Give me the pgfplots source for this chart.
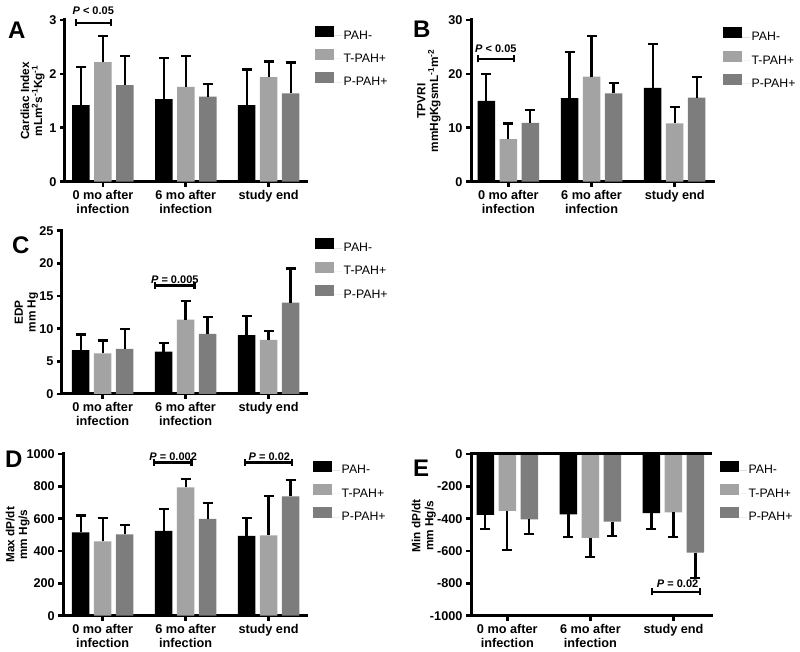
\documentclass[border=0pt]{standalone}
\usepackage{fontspec}
\setmainfont{Liberation Sans}
\usepackage{pgfplots}
\usepackage{pgfplotstable}
\pgfplotsset{compat=1.18}
\usetikzlibrary{arrows.meta}

\definecolor{lgray}{RGB}{163,163,163}
\definecolor{dgray}{RGB}{125,125,125}

\pgfplotstableread{
g pm pme tp tpe pp ppe
0 1.42 0.71 2.22 0.48 1.79 0.54
1 1.53 0.77 1.76 0.57 1.58 0.23
2 1.42 0.66 1.94 0.29 1.64 0.57
}\dataA
\pgfplotstableread{
g pm pme tp tpe pp ppe
0 15.0 5.0 7.9 2.9 10.9 2.4
1 15.5 8.6 19.5 7.6 16.4 1.9
2 17.4 8.2 10.8 3.1 15.6 3.8
}\dataB
\pgfplotstableread{
g pm pme tp tpe pp ppe
0 6.7 2.4 6.2 2.0 6.9 3.1
1 6.5 1.3 11.4 2.8 9.2 2.6
2 9.0 2.9 8.3 1.3 14.0 5.2
}\dataC
\pgfplotstableread{
g pm pme tp tpe pp ppe
0 515 105 460 144 503 58
1 524 136 794 53 598 97
2 493 113 497 245 738 101
}\dataD
\pgfplotstableread{
g pm pme tp tpe pp ppe
0 -377 87 -351 241 -404 93
1 -373 140 -518 119 -419 88
2 -365 101 -361 152 -610 159
}\dataE

\pgfplotsset{
  panel/.style={
    scale only axis,
    height=161.7pt,
    axis lines=left,
    axis line style={-, line width=3pt, line cap=rect},
    x axis line style={line width=3pt},
    y axis line style={line width=3pt},
    tick align=outside,
    major tick length=5pt,
    tick style={line width=2.6pt, black},
    xtick={0,1,2},
    xticklabels={{0 mo after\\infection},{6 mo after\\infection},{study end}},
    xticklabel style={align=center, font=\fontsize{12.7}{13.8}\bfseries\selectfont},
    yticklabel style={font=\fontsize{12.7}{13}\bfseries\selectfont},
    /pgf/number format/assume math mode=true,
    /pgf/number format/1000 sep={},
    ylabel style={align=center, anchor=center, font=\fontsize{11.8}{12.8}\bfseries\selectfont},
    xmax=2.46,
    ybar=4.5pt,
    bar width=17.5pt,
    clip=false,
    error bars/error bar style={line width=2.2pt, black},
    error bars/error mark options={rotate=90, line width=2.2pt, mark size=5pt, black},
    legend style={draw=none, fill=none, inner sep=0pt, row sep=7pt,
      font=\fontsize{12.3}{14}\selectfont, nodes={inner sep=1.5pt}},
    legend cell align=left,
  },
  lgd/.style={legend image code/.code={\fill[##1] (0pt,-1.2pt) rectangle (19pt,9.8pt); \path (0pt,0pt) -- (27pt,0pt);}},
}

\newcommand{\bars}[2]{%
  \addplot[fill=black, draw=none, lgd, error bars/.cd, y dir=#2, y explicit] table[x=g, y=pm, y error=pme] {#1};
  \addplot[fill=lgray, draw=none, lgd, error bars/.cd, y dir=#2, y explicit] table[x=g, y=tp, y error=tpe] {#1};
  \addplot[fill=dgray, draw=none, lgd, error bars/.cd, y dir=#2, y explicit] table[x=g, y=pp, y error=ppe] {#1};
  \legend{PAH-, T-PAH+, P-PAH+}
}

\tikzset{
  brk/.style={line width=2.2pt, {Bar[width=7pt]}-{Bar[width=7pt]}},
  ptxt/.style={font=\fontsize{11}{11}\bfseries\selectfont, anchor=base, inner sep=0pt},
  letter/.style={font=\fontsize{24}{24}\bfseries\selectfont, anchor=base west, inner sep=0pt},
}

\begin{document}
\begin{tikzpicture}
\useasboundingbox (0pt,0pt) rectangle (800pt,652pt);

% Panel A
\begin{axis}[panel, at={(65pt,470.3pt)}, anchor=south west, width=241.7pt,
  xmin=-0.458, ymin=0, ymax=3, ytick={0,1,2,3},
  ylabel={Cardiac Index\\mLm\textsuperscript{2}s\textsuperscript{-1}Kg\textsuperscript{-1}},
  ylabel style={at={(axis description cs:-0.134,0.5)}},
  legend style={at={(1.034,0.965)}, anchor=north west}]
\bars{\dataA}{plus}
\draw[brk] (axis cs:-0.337,2.95) -- (axis cs:0.108,2.95);
\node[ptxt] at (axis cs:-0.117,3.11) {\textit{P} < 0.05};
\end{axis}
\node[letter] at (8pt,613pt) {A};

% Panel B
\begin{axis}[panel, at={(471pt,470.3pt)}, anchor=south west, width=242pt,
  xmin=-0.449, ymin=0, ymax=30, ytick={0,10,20,30},
  ylabel={TPVRI\\mmHgKgsmL\textsuperscript{-1}m\textsuperscript{-2}},
  ylabel style={at={(axis description cs:-0.174,0.5)}},
  legend style={at={(1.041,0.955)}, anchor=north west}]
\bars{\dataB}{plus}
\draw[brk] (axis cs:-0.377,22.8) -- (axis cs:0.08,22.8);
\node[ptxt] at (axis cs:-0.15,23.9) {\textit{P} < 0.05};
\end{axis}
\node[letter] at (413pt,614pt) {B};

% Panel C
\begin{axis}[panel, at={(62pt,258pt)}, anchor=south west, width=244.7pt, height=163.3pt,
  xmin=-0.49, ymin=0, ymax=25, ytick={0,5,10,15,20,25},
  ylabel={EDP\\mm Hg},
  ylabel style={at={(axis description cs:-0.145,0.5)}},
  legend style={at={(1.034,0.955)}, anchor=north west}]
\bars{\dataC}{plus}
\draw[brk] (axis cs:0.614,16.6) -- (axis cs:1.12,16.6);
\node[ptxt] at (axis cs:0.87,16.9) {\textit{P} = 0.005};
\end{axis}
\node[letter] at (12pt,398pt) {C};

% Panel D
\begin{axis}[panel, at={(63.3pt,36.3pt)}, anchor=south west, width=243.4pt,
  xmin=-0.475, ymin=0, ymax=1000, ytick={0,200,400,600,800,1000},
  ylabel={Max dP/dt\\mm Hg/s},
  ylabel style={at={(axis description cs:-0.187,0.5)}},
  legend style={at={(1.026,0.96)}, anchor=north west}]
\bars{\dataD}{plus}
\draw[brk] (axis cs:0.602,948) -- (axis cs:1.084,948);
\node[ptxt] at (axis cs:0.85,958) {\textit{P} = 0.002};
\draw[brk] (axis cs:1.707,948) -- (axis cs:2.294,948);
\node[ptxt] at (axis cs:2.01,958) {\textit{P} = 0.02};
\end{axis}
\node[letter] at (5pt,184pt) {D};

% Panel E
\begin{axis}[panel, at={(471pt,36.3pt)}, anchor=south west, width=240.7pt,
  xmin=-0.437, ymin=-1000, ymax=0, ytick={-1000,-800,-600,-400,-200,0},
  ylabel={Min dP/dt\\mm Hg/s},
  ylabel style={at={(axis description cs:-0.196,0.555)}},
  legend style={at={(1.034,0.96)}, anchor=north west}]
\bars{\dataE}{minus}
\draw[line width=3pt] (rel axis cs:0,1) -- (rel axis cs:1,1);
\draw[brk] (axis cs:1.731,-852) -- (axis cs:2.333,-852);
\node[ptxt] at (axis cs:2.05,-825) {\textit{P} = 0.02};
\end{axis}
\node[letter] at (413pt,175pt) {E};

\end{tikzpicture}
\end{document}
